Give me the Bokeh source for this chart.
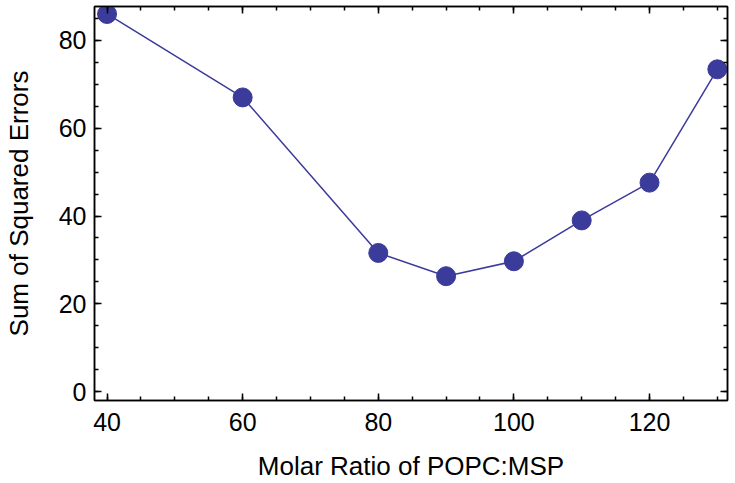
from bokeh.plotting import figure
from bokeh.models import LinearAxis, FixedTicker, Range1d, CustomJSTickFormatter
from bokeh.embed import file_html
from bokeh.resources import INLINE

ratio = [40, 60, 80, 90, 100, 110, 120, 130]
sse = [86.0, 67.0, 31.6, 26.3, 29.7, 39.0, 47.6, 73.4]
x_ticks = [40, 60, 80, 100, 120]
y_ticks = [0, 20, 40, 60, 80]
x_minor = list(range(35, 135, 5))
y_minor = list(range(-5, 95, 5))

color = "#3b3b9b"
font = "Liberation Sans"

p = figure(width=735, height=483, output_backend="svg", toolbar_location=None,
           x_range=Range1d(38.15, 131.5), y_range=Range1d(-2.0, 87.7),
           min_border_left=89, min_border_right=8, min_border_top=6, min_border_bottom=81)
p.xgrid.visible = False
p.ygrid.visible = False
p.outline_line_color = "black"
p.outline_line_width = 1.5

p.line(ratio, sse, line_color=color, line_width=1.5)
p.scatter(ratio, sse, size=19, fill_color=color, line_color=color)

def style(ax, ticks, minor, labels=True):
    ax.ticker = FixedTicker(ticks=ticks, minor_ticks=minor)
    ax.axis_line_color = "black"
    ax.axis_line_width = 1.5
    ax.major_tick_line_width = 1.5
    ax.minor_tick_line_width = 1.5
    ax.major_tick_in = 7
    ax.major_tick_out = 0
    ax.minor_tick_in = 4
    ax.minor_tick_out = 0
    ax.major_label_text_font = font
    ax.major_label_text_color = "black"
    ax.axis_label_text_font = font
    ax.axis_label_text_font_style = "normal"
    ax.axis_label_text_color = "black"
    ax.major_label_text_font_size = "25px"
    ax.axis_label_text_font_size = "26px"
    if not labels:
        ax.formatter = CustomJSTickFormatter(code="return '';")
        ax.major_label_standoff = 0

xa = p.xaxis[0]
ya = p.yaxis[0]
style(xa, x_ticks, x_minor)
style(ya, y_ticks, y_minor)
xa.axis_label = "Molar Ratio of POPC:MSP"
ya.axis_label = "Sum of Squared Errors"
xa.major_label_standoff = 12
ya.major_label_standoff = 8
xa.axis_label_standoff = 17
ya.axis_label_standoff = 22

top = LinearAxis()
style(top, x_ticks, x_minor, labels=False)
p.add_layout(top, "above")
right = LinearAxis()
style(right, y_ticks, y_minor, labels=False)
p.add_layout(right, "right")

open("out.html", "w").write(file_html(p, INLINE))
